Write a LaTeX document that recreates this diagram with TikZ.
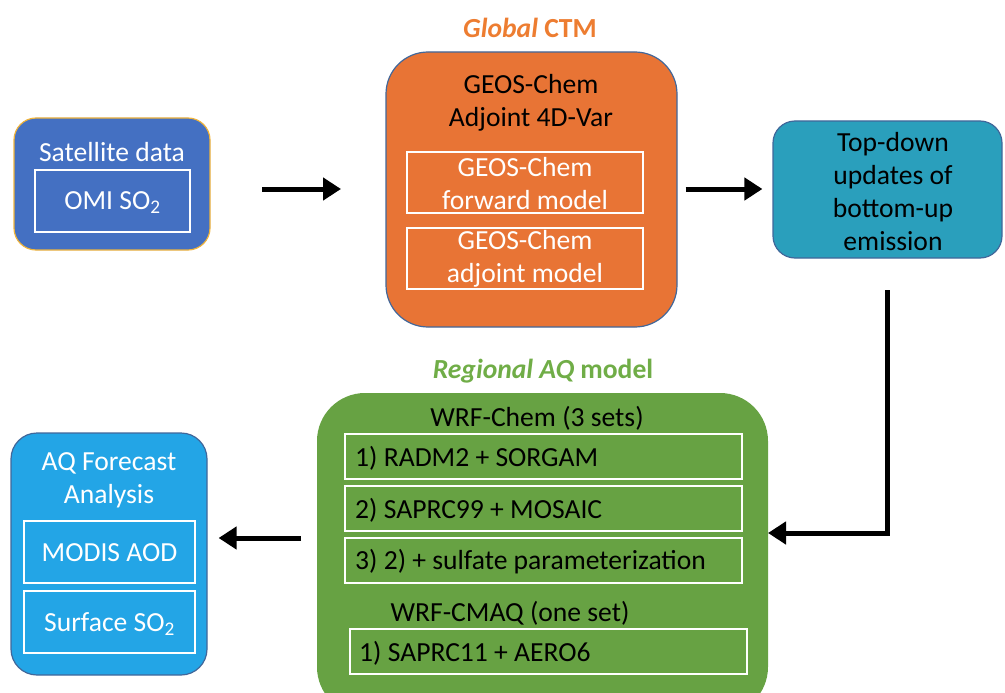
\documentclass[tikz,border=0pt]{standalone}
\usepackage{fontspec}
\setmainfont{Carlito}
\usetikzlibrary{arrows.meta}
\definecolor{satblue}{HTML}{4470C2}
\definecolor{satedge}{HTML}{F0B43C}
\definecolor{ctmorange}{HTML}{E87435}
\definecolor{edgeblue}{HTML}{41679A}
\definecolor{teal}{HTML}{2A9FBC}
\definecolor{aqgreen}{HTML}{67A243}
\definecolor{aqblue}{HTML}{23A5E6}
\definecolor{lblorange}{HTML}{ED7D31}
\definecolor{lblgreen}{HTML}{70AD47}
\tikzset{
  txt/.style={font=\fontsize{27.6}{33}\selectfont, inner sep=0pt, align=center},
  bigbox/.style={rounded corners=#1, minimum width=0pt, minimum height=0pt, inner sep=0pt, line width=1.2pt},
  inbox/.style={draw=white, line width=1.4pt, inner sep=0pt},
  arr/.style={line width=5pt, -{Triangle[width=22pt,length=18pt]}}
}
\begin{document}
\begin{tikzpicture}[x=1pt,y=-1pt]
\useasboundingbox (0,0) rectangle (1005,693);
\clip (0,0) rectangle (1005,693);
% Satellite box
\node[bigbox=22pt, fill=satblue, draw=satedge, minimum width=196pt, minimum height=132pt] (sat) at (112,184) {};
\node[txt, white] (sattitle) at (112,152) {Satellite data};
\node[inbox, minimum width=155pt, minimum height=62pt] (omi) at (112.5,201) {};
\node[txt, white] (omitxt) at (112.5,203) {OMI SO\textsubscript{2}};
% Global CTM
\node[txt, lblorange, font=\fontsize{27.6}{33}\selectfont\bfseries] (globallbl) at (530,28) {\itshape Global\/\upshape{} CTM};
\node[bigbox=42pt, fill=ctmorange, draw=edgeblue, minimum width=291pt, minimum height=275pt] (ctm) at (531.5,189.5) {};
\node[txt, black] (ctmtitle) at (531,103) {GEOS-Chem\\Adjoint 4D-Var};
\node[inbox, minimum width=236pt, minimum height=61pt] (fwd) at (525,182.5) {};
\node[txt, white] (fwdtxt) at (525,184) {GEOS-Chem\\forward model};
\node[inbox, minimum width=236pt, minimum height=61pt] (adj) at (525,258.5) {};
\node[txt, white] (adjtxt) at (525,259) {GEOS-Chem\\adjoint model};
% Top-down box
\node[bigbox=22pt, fill=teal, draw=edgeblue, minimum width=229pt, minimum height=137pt] (td) at (887.5,189.5) {};
\node[txt, black] (tdtxt) at (893,192) {Top-down\\updates of\\bottom-up\\emission};
% Regional AQ model
\node[txt, lblgreen, font=\fontsize{27.6}{33}\selectfont\bfseries] (regionallbl) at (543,371) {\itshape Regional AQ\/\upshape{} model};
\node[bigbox=48pt, fill=aqgreen, draw=none, minimum width=451pt, minimum height=322pt] (wrf) at (542.5,554) {};
\node[txt, black] (wrfchem) at (537,418) {WRF-Chem (3 sets)};
\node[inbox, minimum width=397pt, minimum height=45pt] (s1) at (543.5,456.5) {};
\node[txt, black, anchor=west] (s1txt) at (355,458) {1) RADM2 + SORGAM};
\node[inbox, minimum width=397pt, minimum height=45pt] (s2) at (543.5,508.5) {};
\node[txt, black, anchor=west] (s2txt) at (355,510) {2) SAPRC99 + MOSAIC};
\node[inbox, minimum width=397pt, minimum height=45pt] (s3) at (543.5,560.5) {};
\node[txt, black, anchor=west] (s3txt) at (355,562) {3) 2) + sulfate parameterization};
\node[txt, black] (wrfcmaq) at (510,613) {WRF-CMAQ (one set)};
\node[inbox, minimum width=397pt, minimum height=45pt] (c1) at (548.5,651.5) {};
\node[txt, black, anchor=west] (c1txt) at (359,653) {1) SAPRC11 + AERO6};
% AQ Forecast box
\node[bigbox=26pt, fill=aqblue, draw=edgeblue, minimum width=196pt, minimum height=242pt] (aq) at (109,554) {};
\node[txt, white] (aqtitle) at (109,480) {AQ Forecast\\Analysis};
\node[inbox, minimum width=171pt, minimum height=62pt] (modis) at (109.5,552) {};
\node[txt, white] (modistxt) at (109.5,553) {MODIS AOD};
\node[inbox, minimum width=171pt, minimum height=62pt] (surf) at (109.5,622) {};
\node[txt, white] (surftxt) at (109.5,624) {Surface SO\textsubscript{2}};
% connectors
\coordinate (a1s) at (262,189);
\coordinate (a1e) at (341,189);
\draw[arr] (a1s) -- (a1e);
\draw[arr, shorten <=8pt, shorten >=10pt] (ctm.east |- a1s) -- (td.west |- a1s);
\coordinate (gin) at (768,533);
\coordinate (vtop) at (887,290);
\draw[arr] (vtop) |- (gin);
\coordinate (gout) at (301,538);
\draw[arr, shorten >=11pt] (gout) -- (aq.east |- gout);
\end{tikzpicture}
\end{document}
